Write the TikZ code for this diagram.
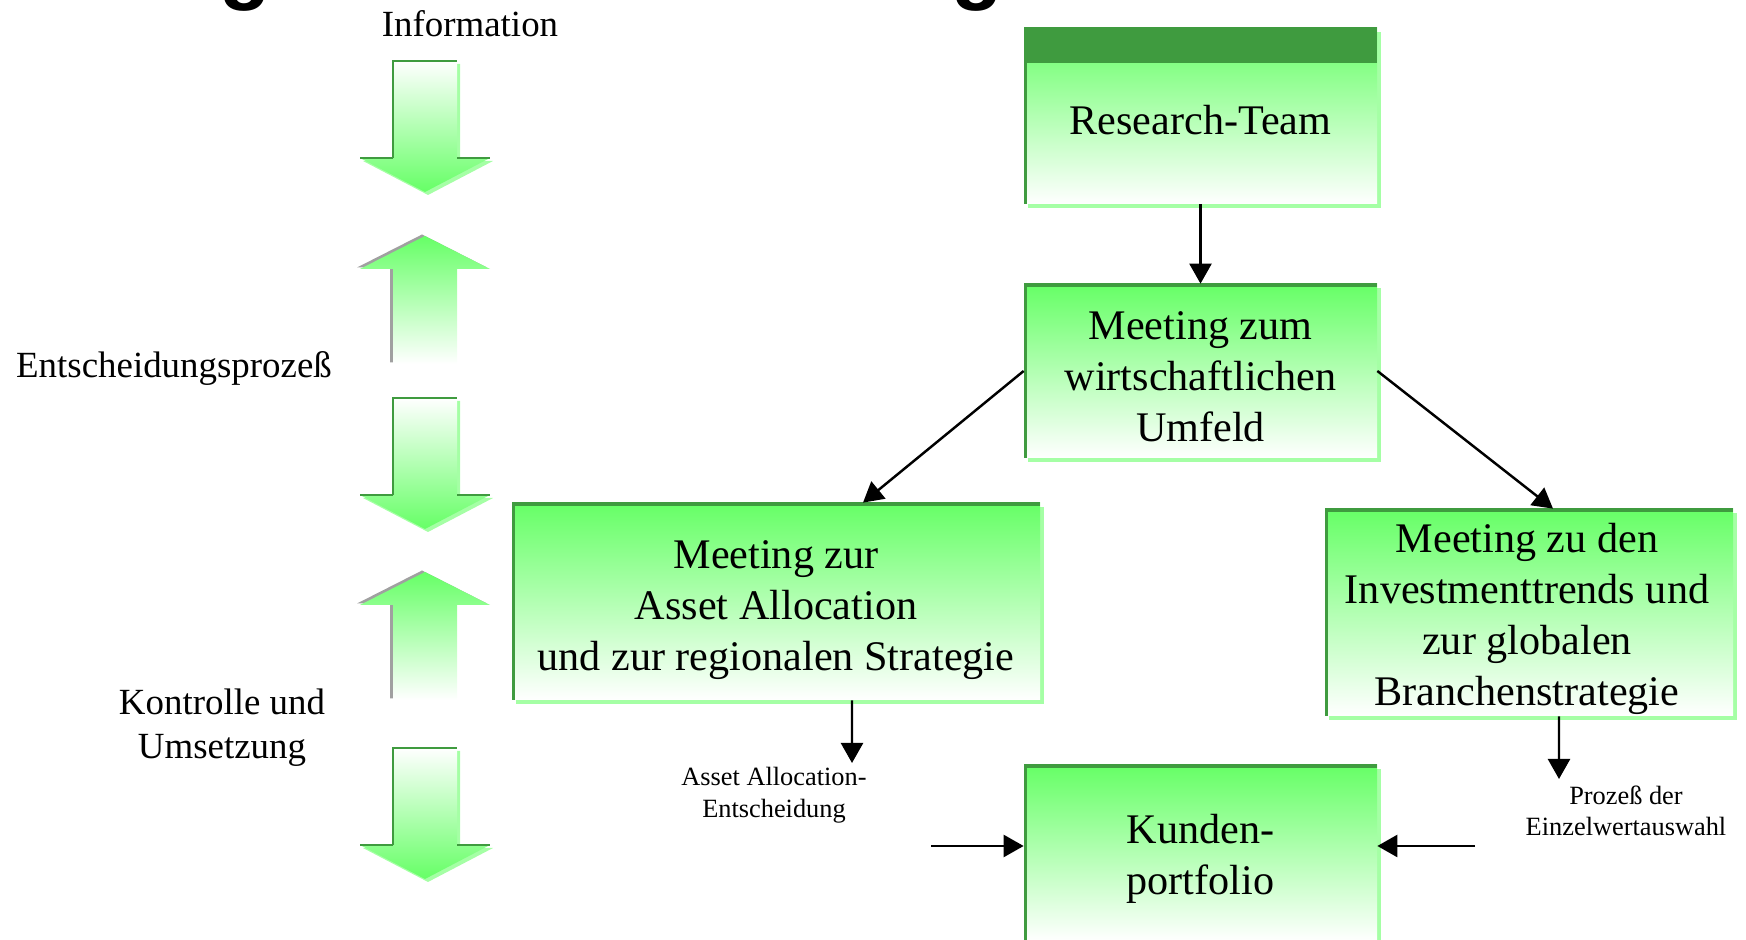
\documentclass[tikz,border=0pt]{standalone}
\usepackage{fontspec}
\setmainfont{Liberation Serif}
\setsansfont{Liberation Sans}
\usepackage{tikz}
\usetikzlibrary{arrows.meta,positioning,calc,shadows}
\definecolor{boxgreen}{RGB}{102,255,102}
\definecolor{edgegreen}{RGB}{63,155,63}
\definecolor{shadegreen}{RGB}{165,255,165}
\definecolor{greyshade}{RGB}{160,160,160}

\tikzset{
  panel/.style={rectangle, inner sep=0pt,
    top color=boxgreen, bottom color=white,
    general shadow={fill=shadegreen, shadow xshift=0.08cm, shadow yshift=-0.08cm},
    path picture={\draw[edgegreen, line width=3.4pt]
      (path picture bounding box.south west) -- (path picture bounding box.north west)
      -- (path picture bounding box.north east);}},
  paneltext/.style={align=center, inner sep=0pt, font=\fontsize{24}{29}\selectfont},
  flow/.style={-{Triangle[length=0.4cm,width=0.44cm]}, line width=1.4pt},
  sidelabel/.style={font=\fontsize{21}{25}\selectfont, align=center},
  smalllabel/.style={font=\fontsize{15}{18}\selectfont, align=center}
}

\begin{document}
\begin{tikzpicture}
    \useasboundingbox (0,0) rectangle (34.92,18.8);

    % Heading (cut off)
    \node[anchor=base, inner sep=0pt, font=\sffamily\bfseries\fontsize{48}{48}\selectfont] (titleg1) at (4.9,18.92) {g};
    \node[anchor=base, inner sep=0pt, font=\sffamily\bfseries\fontsize{48}{48}\selectfont] (titleg2) at (19.54,18.92) {g};

    % Left column
    \node[sidelabel] (info) at (9.4,18.32) {Information};
    \node[sidelabel] (decide) at (3.48,11.42) {Entscheidungsprozeß};
    \node[sidelabel] (control) at (4.44,4.24) {Kontrolle und\\Umsetzung};

    \foreach \ytop in {17.58,10.84,3.84}{
        \fill[shadegreen, xshift=0.06cm, yshift=-0.06cm] (7.86,\ytop) -- (9.14,\ytop) -- (9.14,\ytop-1.94) -- (9.8,\ytop-1.94)
            -- (8.5,\ytop-2.62) -- (7.2,\ytop-1.94) -- (7.86,\ytop-1.94) -- cycle;
        \shade[top color=white, bottom color=boxgreen] (7.86,\ytop) -- (9.14,\ytop) -- (9.14,\ytop-1.94) -- (9.8,\ytop-1.94)
            -- (8.5,\ytop-2.62) -- (7.2,\ytop-1.94) -- (7.86,\ytop-1.94) -- cycle;
        \draw[edgegreen, line width=1.1pt] (7.86,\ytop-1.94) -- (7.86,\ytop) -- (9.14,\ytop);
        \draw[edgegreen, line width=1.1pt] (7.2,\ytop-1.94) -- (7.86,\ytop-1.94) (9.14,\ytop-1.94) -- (9.8,\ytop-1.94);
    }
    \foreach \ytip in {14.08,7.36}{
        \fill[greyshade, xshift=-0.06cm, yshift=0.03cm] (8.5,\ytip) -- (9.8,\ytip-0.66) -- (9.14,\ytip-0.66) -- (9.14,\ytip-2.56)
            -- (7.86,\ytip-2.56) -- (7.86,\ytip-0.66) -- (7.2,\ytip-0.66) -- cycle;
        \shade[top color=boxgreen, bottom color=white] (8.5,\ytip) -- (9.8,\ytip-0.66) -- (9.14,\ytip-0.66) -- (9.14,\ytip-2.56)
            -- (7.86,\ytip-2.56) -- (7.86,\ytip-0.66) -- (7.2,\ytip-0.66) -- cycle;
    }

    % Boxes
    \node[panel, minimum width=7.06cm, minimum height=3.52cm] (research) at (24.01,16.48) {};
    \fill[edgegreen] (research.north west) rectangle ([yshift=-0.7cm]research.north east);
    \node[panel, minimum width=7.06cm, minimum height=3.48cm] (umfeld) at (24.01,11.38) {};
    \node[panel, minimum width=10.56cm, minimum height=3.94cm] (alloc) at (15.52,6.77) {};
    \node[panel, minimum width=8.16cm, minimum height=4.14cm] (trends) at (30.58,6.55) {};
    \node[panel, minimum width=7.06cm, minimum height=3.52cm] (kunden) at (24.01,1.74) {};

    \node[paneltext] (researchtext) at ([yshift=-0.09cm]research.center) {Research-Team};
    \node[paneltext] (umfeldtext) at ([yshift=-0.11cm]umfeld.center) {Meeting zum\\wirtschaftlichen\\Umfeld};
    \node[paneltext] (alloctext) at ([yshift=-0.18cm]alloc.center) {Meeting zur\\Asset Allocation\\und zur regionalen Strategie};
    \node[paneltext] (trendstext) at ([xshift=-0.04cm,yshift=-0.13cm]trends.center) {Meeting zu den\\Investmenttrends und\\zur globalen\\Branchenstrategie};
    \node[paneltext] (kundentext) at ([yshift=-0.11cm]kunden.center) {Kunden-\\portfolio};

    % Small labels
    \node[smalllabel] (alloclabel) at (15.48,2.9) {Asset Allocation-\\Entscheidung};
    \node[smalllabel] (trendslabel) at (32.52,2.58) {Prozeß der\\Einzelwertauswahl};

    % Connectors
    \coordinate (allocout) at (17.04,3.54);
    \coordinate (trendsout) at (31.18,3.22);
    \coordinate (kleft) at (18.62,1.88);
    \coordinate (kright) at (29.5,1.88);

    \draw[flow] (research.south) -- (umfeld.north);
    \draw[flow] (umfeld.west) -- ([xshift=1.74cm]alloc.north);
    \draw[flow] (umfeld.east) -- ([xshift=0.48cm]trends.north);
    \draw[flow] ([xshift=1.52cm]alloc.south) -- (allocout);
    \draw[flow] ([xshift=0.6cm]trends.south) -- (trendsout);
    \draw[flow] (kleft) -- (kleft -| kunden.west);
    \draw[flow] (kright) -- (kright -| kunden.east);
\end{tikzpicture}
\end{document}
